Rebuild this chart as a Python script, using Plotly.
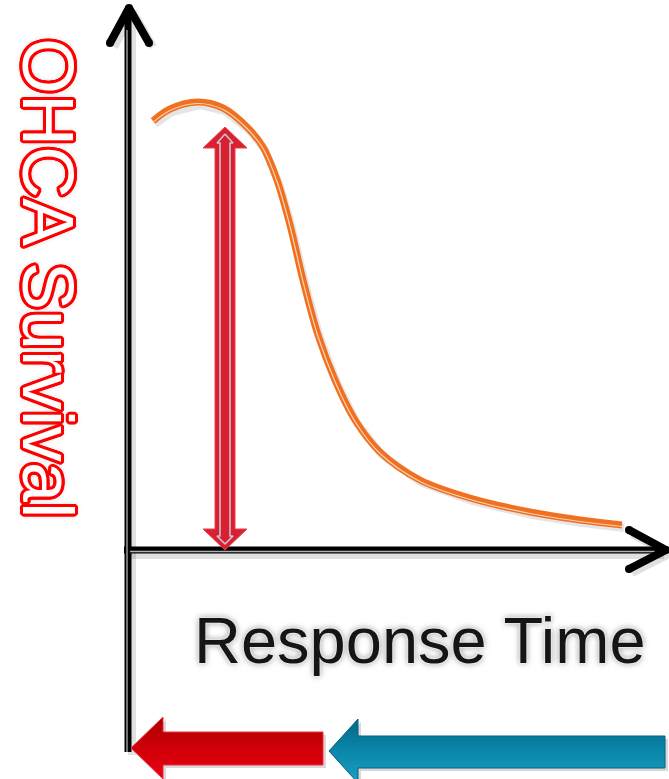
import plotly.graph_objects as go

# ---- data (pixel-space coordinates of the conceptual diagram) ----
curve_time = [153, 170, 198, 223, 247, 263, 277, 290, 303, 318, 335, 355, 380, 420, 470, 530, 580, 622]
curve_survival = [121, 109, 102, 108, 127, 147, 180, 225, 280, 335, 380, 420, 452, 480, 498, 512, 520, 525]

y_axis_label = "OHCA Survival"
x_axis_label = "Response Time"

# geometry of decorative arrows
v_axis_x = [128, 128]
v_axis_y = [752, 12]
v_head_x = [110, 129, 149]
v_head_y = [43, 8, 43]
h_axis_x = [124, 662]
h_axis_y = [550, 550]
h_head_x = [629, 666, 629]
h_head_y = [530, 550, 569]

dbl_x = [225, 247, 235, 235, 247, 225, 203, 215, 215, 203, 225]
dbl_y = [127, 148, 148, 529, 529, 550, 529, 529, 148, 148, 127]
dbl_in_x = [225, 233, 230, 230, 233, 225, 217, 220, 220, 217, 225]
dbl_in_y = [134, 143, 143, 536, 536, 544, 536, 536, 143, 143, 134]

red_x = [131, 163, 163, 323, 323, 163, 163, 131]
red_y = [748, 717, 732, 732, 765, 765, 779, 748]
blue_x = [329, 358, 358, 665, 665, 358, 358, 329]
blue_y = [751, 719, 736, 736, 768, 768, 783, 751]

fig = go.Figure()

def line(x, y, color, width, dx=0, dy=0, caps=False):
    fig.add_trace(go.Scatter(
        x=[v + dx for v in x], y=[v + dy for v in y], mode="lines+markers" if caps else "lines",
        line=dict(color=color, width=width),
        marker=dict(size=width, color=color) if caps else None,
        hoverinfo="skip", showlegend=False))

# shadows
line(v_axis_x, v_axis_y, "rgba(0,0,0,0.12)", 8, dx=4, dy=3)
line(h_axis_x, h_axis_y, "rgba(0,0,0,0.12)", 8, dx=2, dy=5)
line(v_head_x, v_head_y, "rgba(0,0,0,0.12)", 8, dx=4, dy=4)
line(h_head_x, h_head_y, "rgba(0,0,0,0.12)", 8, dx=3, dy=4)

# axes
line(v_axis_x, v_axis_y, "#000000", 7)
line(h_axis_x, h_axis_y, "#000000", 7)
line([x - 1 for x in v_axis_x], [752, 30], "#b0b0b0", 1.3)
line([130, 655], [551.5, 551.5], "#b0b0b0", 1.3)
line(v_head_x, v_head_y, "#000000", 8, caps=True)
line(h_head_x, h_head_y, "#000000", 8, caps=True)

# curve
line(curve_time, curve_survival, "rgba(0,0,0,0.10)", 8, dx=2, dy=3)
fig.add_trace(go.Scatter(x=curve_time, y=curve_survival, mode="lines",
                         line=dict(color="#F07020", width=7, shape="spline", smoothing=1.0),
                         hoverinfo="skip", showlegend=False))
fig.add_trace(go.Scatter(x=curve_time, y=[v + 1.5 for v in curve_survival], mode="lines",
                         line=dict(color="#FAD2B4", width=1.2, shape="spline", smoothing=1.0),
                         hoverinfo="skip", showlegend=False))

# red double arrow
fig.add_trace(go.Scatter(x=dbl_x, y=dbl_y, mode="lines", fill="toself",
                         fillcolor="#DA1F30", line=dict(color="#E84050", width=1),
                         hoverinfo="skip", showlegend=False))
fig.add_trace(go.Scatter(x=dbl_in_x, y=dbl_in_y, mode="lines",
                         line=dict(color="#C4CCDA", width=1.5),
                         hoverinfo="skip", showlegend=False))

# bottom arrows
fig.add_trace(go.Scatter(x=[v + 3 for v in red_x], y=[v + 3 for v in red_y], mode="lines", fill="toself",
                         fillcolor="rgba(0,0,0,0.15)", line=dict(width=0),
                         hoverinfo="skip", showlegend=False))
fig.add_trace(go.Scatter(x=[v + 3 for v in blue_x], y=[v + 3 for v in blue_y], mode="lines", fill="toself",
                         fillcolor="rgba(0,0,0,0.15)", line=dict(width=0),
                         hoverinfo="skip", showlegend=False))
fig.add_trace(go.Scatter(x=red_x, y=red_y, mode="lines", fill="toself",
                         fillgradient=dict(type="vertical",
                                           colorscale=[[0, "#E80010"], [0.5, "#D00008"], [1, "#A80000"]]),
                         line=dict(color="#F03040", width=1),
                         hoverinfo="skip", showlegend=False))
fig.add_trace(go.Scatter(x=blue_x, y=blue_y, mode="lines", fill="toself",
                         fillgradient=dict(type="vertical",
                                           colorscale=[[0, "#1AA0C4"], [0.5, "#0A86AA"], [1, "#006A88"]]),
                         line=dict(color="#0A5E78", width=1),
                         hoverinfo="skip", showlegend=False))

offs = [(3, 0), (-3, 0), (0, 3), (0, -3), (2.2, 2.2), (-2.2, -2.2), (2.2, -2.2), (-2.2, 2.2),
        (2.8, 1.2), (-2.8, 1.2), (2.8, -1.2), (-2.8, -1.2), (1.2, 2.8), (-1.2, 2.8), (1.2, -2.8), (-1.2, -2.8)]
red_outline = ", ".join(f"{a}px {b}px 0 #FF0000" for a, b in offs) + ", 0 0 6px #888888"
fig.add_annotation(x=48, y=278, xref="x", yref="y", text=y_axis_label, showarrow=False,
                   textangle=90,
                   font=dict(family="Liberation Sans, Arial", size=72, color="#FFFFFF", shadow=red_outline))

fig.add_annotation(x=420, y=640, xref="x", yref="y", text=x_axis_label, showarrow=False,
                   font=dict(family="Liberation Sans, Arial", size=65, color="#151515",
                             shadow="0 0 2px #FFFFFF, 0 0 3px #FFFFFF, 0 0 6px #777777"))

fig.update_layout(
    width=669, height=779,
    margin=dict(l=0, r=0, t=0, b=0),
    paper_bgcolor="white", plot_bgcolor="white",
    xaxis=dict(range=[0, 669], visible=False, fixedrange=True),
    yaxis=dict(range=[779, 0], visible=False, fixedrange=True),
    showlegend=False,
)

fig.write_html("out.html", config={"displayModeBar": False},
               post_script="document.body.style.margin='0';document.body.style.overflow='hidden';")
